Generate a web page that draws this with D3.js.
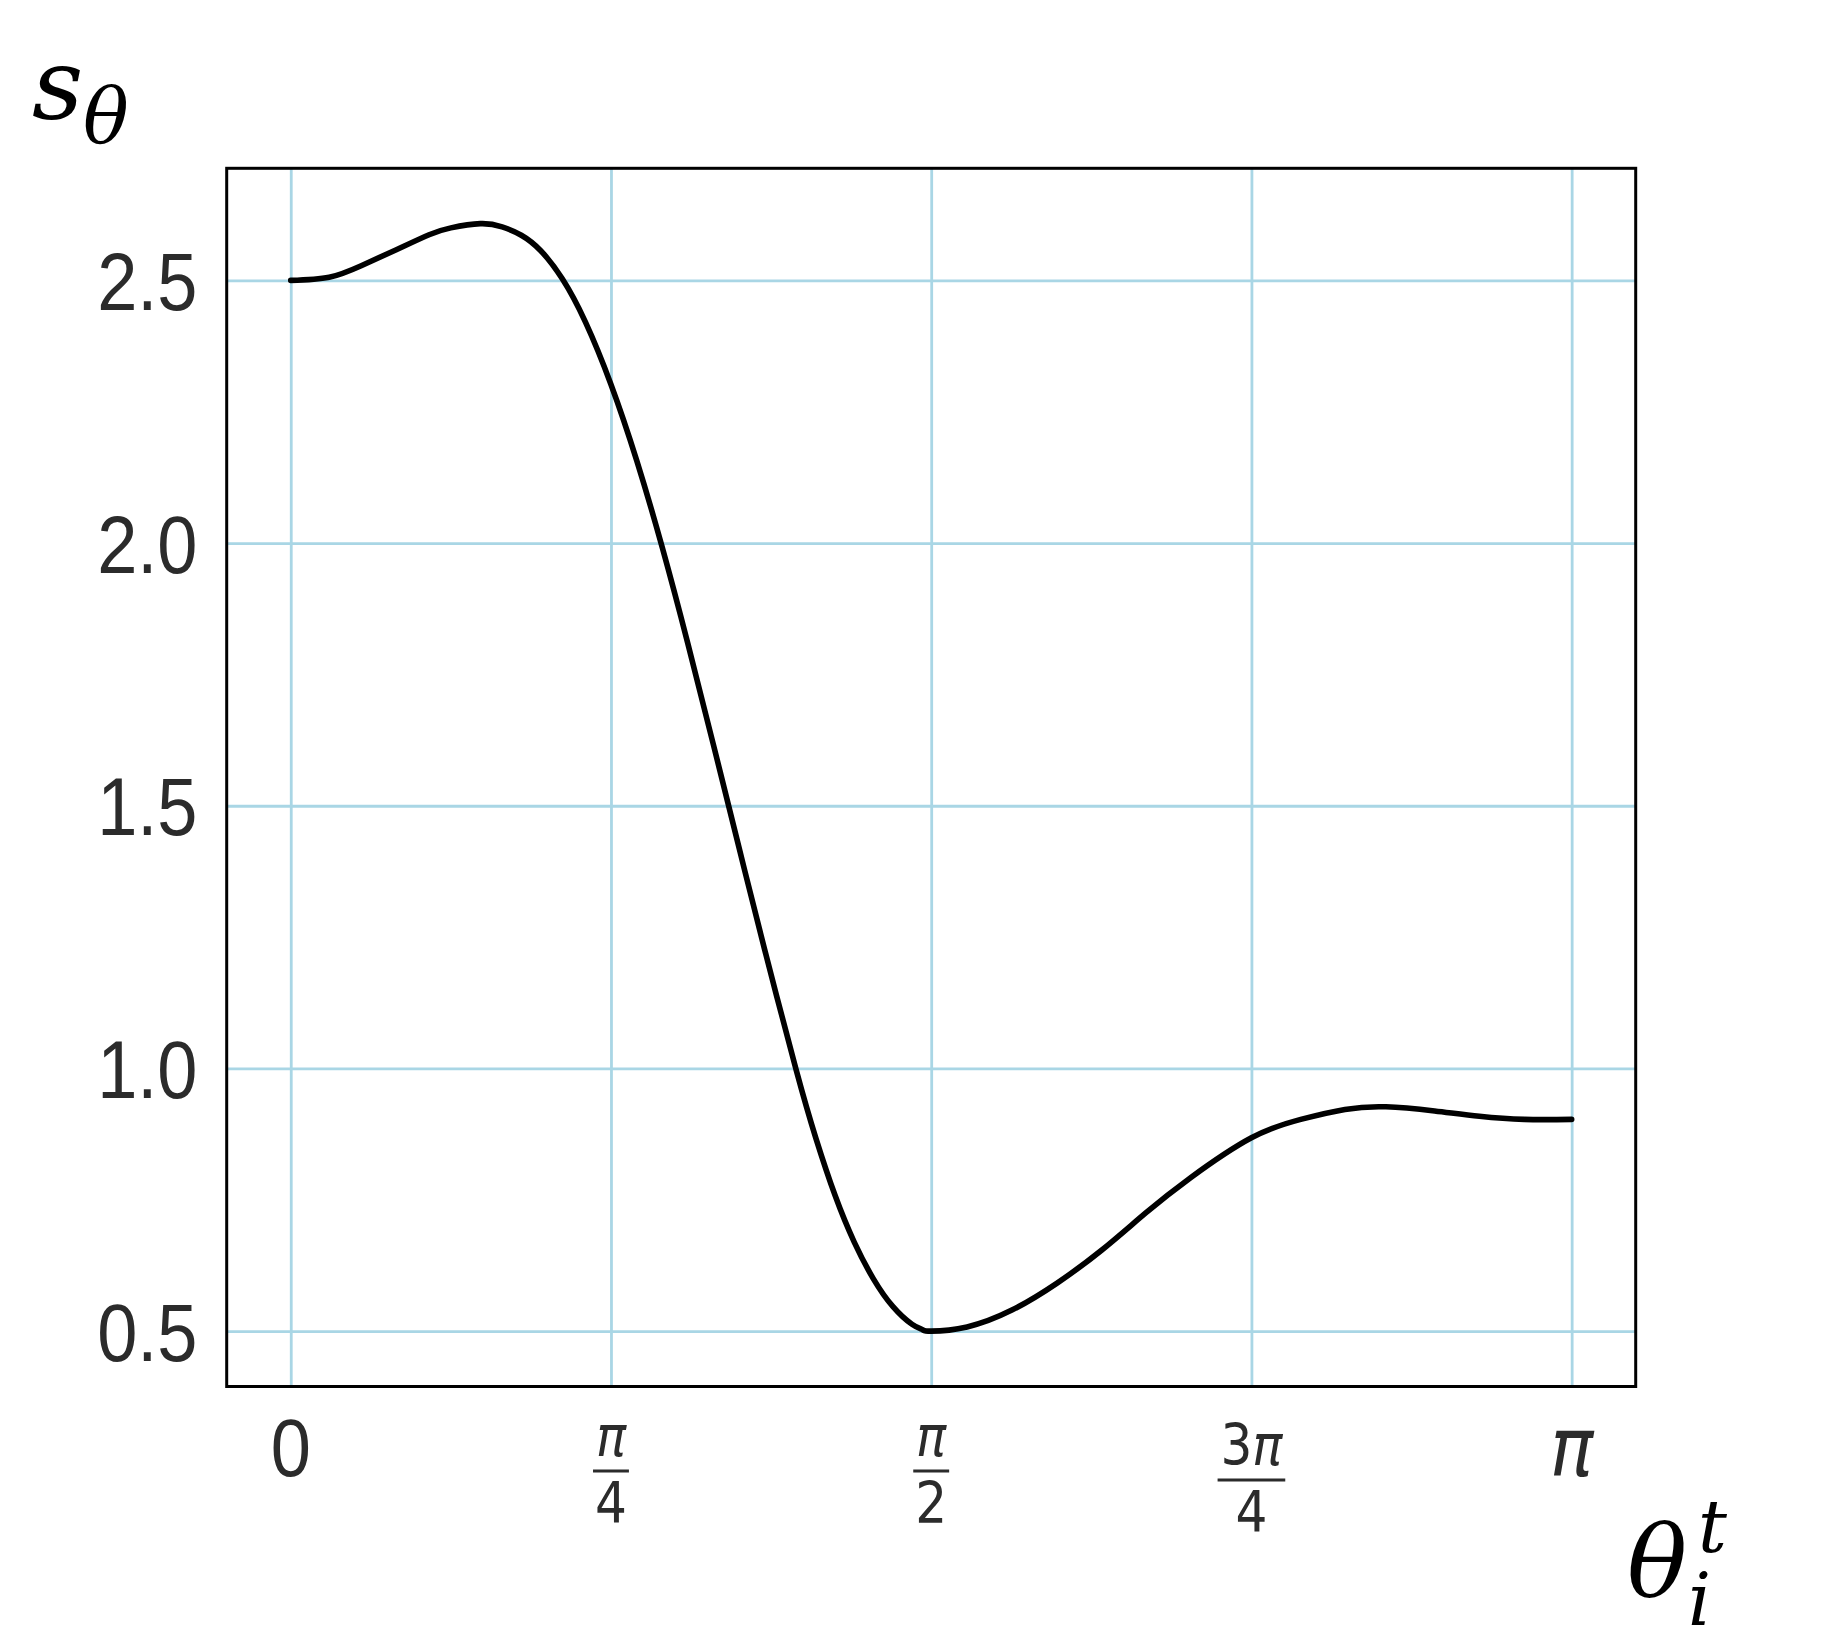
<!DOCTYPE html>
<html><head><meta charset="utf-8">
<script src="https://cdn.jsdelivr.net/npm/d3@7"></script>
<style>html,body{margin:0;padding:0;background:#fff;} svg{display:block;}</style>
</head><body>
<svg id="chart" width="1822" height="1646"></svg>
<script>
// ---- data (θ expressed as a fraction of π) ----
const thetaOverPi = [0.000, 0.030, 0.055, 0.082, 0.108, 0.125, 0.148,
  0.165, 0.180, 0.195, 0.212, 0.230, 0.250, 0.270, 0.290, 0.310, 0.330,
  0.350, 0.370, 0.3945, 0.410, 0.425, 0.440, 0.455, 0.470, 0.485, 0.493,
  0.500, 0.528, 0.563, 0.598, 0.633, 0.6675, 0.7025, 0.750, 0.7885, 0.823,
  0.855, 0.893, 0.928, 0.963, 1.000];
const sTheta = [2.500, 2.506, 2.528, 2.558, 2.587, 2.600, 2.608,
  2.602, 2.586, 2.557, 2.503, 2.421, 2.302, 2.158, 1.992, 1.809, 1.616,
  1.420, 1.226, 0.998, 0.867, 0.758, 0.669, 0.599, 0.547, 0.513, 0.503,
  0.500, 0.508, 0.540, 0.591, 0.654, 0.725, 0.792, 0.868, 0.903, 0.922,
  0.927, 0.919, 0.909, 0.903, 0.903];
const yTicks = [0.5, 1.0, 1.5, 2.0, 2.5];
const xTicksOverPi = [0, 0.25, 0.5, 0.75, 1];
const xTickNumerators = ["0", "π", "π", "3π", "π"];
const xTickDenominators = ["", "4", "2", "4", ""];
const yTitle = {main: "s", sub: "θ"};
const xTitle = {main: "θ", sub: "i", sup: "t"};

// ---- layout ----
const W = 1822, H = 1646;
const frame = {left: 226.7, right: 1635.7, top: 168.3, bottom: 1386.5};
const SX = 0.88; // horizontal squeeze of tick text
const tickColor = "#2b2b2b";

const svg = d3.select("#chart");
svg.append("rect").attr("width", W).attr("height", H).attr("fill", "#fff");

const data = thetaOverPi.map((t, i) => ({x: t * Math.PI, y: sTheta[i]}));
const pad = e => { const r = e[1] - e[0]; return [e[0] - 0.05 * r, e[1] + 0.05 * r]; };
const x = d3.scaleLinear().domain(pad(d3.extent(data, d => d.x))).range([frame.left, frame.right]);
const y = d3.scaleLinear().domain(pad(d3.extent(data, d => d.y))).range([frame.bottom, frame.top]);

// grid
const gridColor = "#a9d6e5";
const gxGrid = svg.append("g").attr("transform", `translate(0,${frame.bottom})`)
  .call(d3.axisBottom(x).tickValues(xTicksOverPi.map(t => t * Math.PI))
    .tickSize(-(frame.bottom - frame.top)).tickFormat(""));
gxGrid.select(".domain").remove();
gxGrid.selectAll("line").attr("stroke", gridColor).attr("stroke-width", 2.8);

const gyGrid = svg.append("g").attr("transform", `translate(${frame.left},0)`)
  .call(d3.axisLeft(y).tickValues(yTicks).tickSize(-(frame.right - frame.left)).tickFormat(""));
gyGrid.select(".domain").remove();
gyGrid.selectAll("line").attr("stroke", gridColor).attr("stroke-width", 2.8);

// curve
svg.append("path").datum(data)
  .attr("fill", "none").attr("stroke", "#000").attr("stroke-width", 5.6)
  .attr("stroke-linejoin", "round").attr("stroke-linecap", "round")
  .attr("d", d3.line().x(d => x(d.x)).y(d => y(d.y)).curve(d3.curveNatural));

// frame
svg.append("rect")
  .attr("x", frame.left).attr("y", frame.top)
  .attr("width", frame.right - frame.left).attr("height", frame.bottom - frame.top)
  .attr("fill", "none").attr("stroke", "#000").attr("stroke-width", 3);

// y tick labels
const gy = svg.append("g").attr("transform", `translate(${frame.left},0)`)
  .call(d3.axisLeft(y).tickValues(yTicks).tickSize(0).tickPadding(0).tickFormat(d3.format(".1f")));
gy.select(".domain").remove();
gy.attr("font-family", null).attr("font-size", null);
gy.selectAll(".tick text")
  .attr("dy", null).attr("y", 29)
  .attr("x", -29.2 / SX)
  .attr("transform", `scale(${SX},1)`)
  .attr("text-anchor", "end")
  .attr("font-family", "'Liberation Sans', Arial, sans-serif")
  .attr("font-size", 82).attr("fill", tickColor);

// x tick labels
const labelTop = 1422;
const xl = svg.append("g");
xTicksOverPi.forEach((t, i) => {
  const g = xl.append("g").attr("transform", `translate(${x(t * Math.PI)},0) scale(${SX},1)`);
  const num = xTickNumerators[i], den = xTickDenominators[i];
  if (!den) {
    const isPi = num.includes("π");
    g.append("text").attr("x", 0).attr("y", 1476).attr("text-anchor", "middle")
      .attr("font-family", isPi ? "'DejaVu Sans', sans-serif" : "'Liberation Sans', Arial, sans-serif")
      .attr("font-style", isPi ? "italic" : "normal")
      .attr("font-size", 82).attr("fill", tickColor).text(num);
  } else {
    const fs = 57;
    const hasDigit = /[0-9]/.test(num);
    const numBase = labelTop + (hasDigit ? 43 : 34);
    const bar = numBase + 15;
    const denBase = bar + 52;
    const nt = g.append("text").attr("x", 0).attr("y", numBase).attr("text-anchor", "middle")
      .attr("font-family", "'DejaVu Sans', sans-serif").attr("font-size", fs).attr("fill", tickColor);
    num.split("").forEach(ch => {
      nt.append("tspan").attr("font-style", ch === "π" ? "italic" : "normal").text(ch);
    });
    const dt = g.append("text").attr("x", 0).attr("y", denBase).attr("text-anchor", "middle")
      .attr("font-family", "'DejaVu Sans', sans-serif").attr("font-size", fs).attr("fill", tickColor).text(den);
    const w = Math.max(nt.node().getBBox().width, dt.node().getBBox().width) + 4 / SX;
    g.append("line").attr("x1", -w / 2).attr("x2", w / 2).attr("y1", bar).attr("y2", bar)
      .attr("stroke", tickColor).attr("stroke-width", 3);
  }
});

// axis titles (one text element each, scripts as positioned tspans)
const serif = "'DejaVu Serif', 'Liberation Serif', serif";
const yt = svg.append("text").attr("font-family", serif).attr("font-style", "italic").attr("fill", "#000");
yt.append("tspan").attr("x", 32).attr("y", 119).attr("font-size", 100).text(yTitle.main);
yt.append("tspan").attr("x", 83).attr("y", 142).attr("font-size", 76).text(yTitle.sub);

const xt = svg.append("text").attr("font-family", serif).attr("font-style", "italic").attr("fill", "#000");
xt.append("tspan").attr("x", 1627).attr("y", 1597).attr("font-size", 100).text(xTitle.main);
xt.append("tspan").attr("x", 1688).attr("y", 1625).attr("font-size", 72).text(xTitle.sub);
xt.append("tspan").attr("x", 1698).attr("y", 1552).attr("font-size", 72).text(xTitle.sup);
</script>
</body></html>
